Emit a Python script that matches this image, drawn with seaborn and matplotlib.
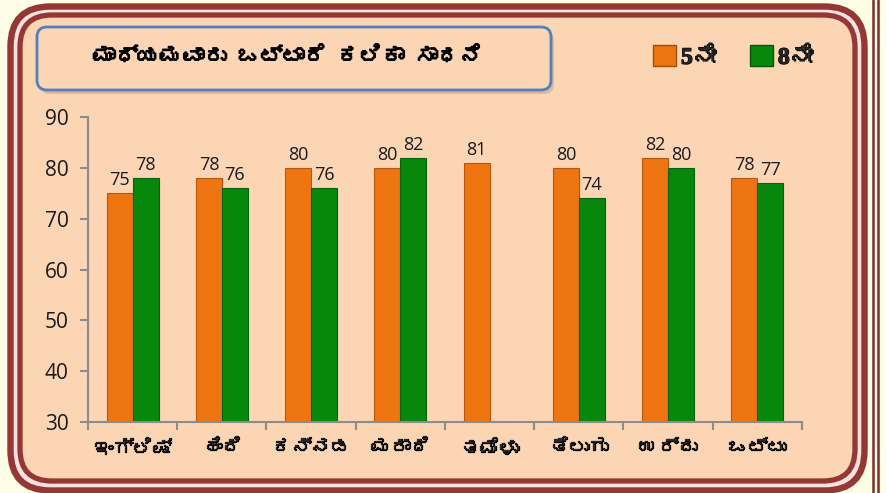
import numpy as np
import pandas as pd
import seaborn as sns
import matplotlib.pyplot as plt
import matplotlib.patheffects as pe
from matplotlib import font_manager, ft2font
from matplotlib.patches import FancyBboxPatch, Rectangle

sns.set_theme(style="white")

# find a font with Kannada glyphs
kn_font = None
for f in font_manager.fontManager.ttflist:
    try:
        if 0x0C95 in ft2font.FT2Font(f.fname).get_charmap():
            kn_font = f.name
            break
    except Exception:
        pass
kn_family = [kn_font, "DejaVu Sans"] if kn_font else ["DejaVu Sans"]
leg_family = ["Liberation Serif"] + kn_family
plt.rcParams["font.family"] = ["Open Sans", "DejaVu Sans"]

# data
languages = ["ಇಂಗ್ಲಿಷ್", "ಹಿಂದಿ", "ಕನ್ನಡ", "ಮರಾಠಿ", "ತಮಿಳು", "ತೆಲುಗು", "ಉರ್ದು", "ಒಟ್ಟು"]
grade5 = [75, 78, 80, 80, 81, 80, 82, 78]
grade8 = [78, 76, 76, 82, np.nan, 74, 80, 77]
grades = ["5ನೇ", "8ನೇ"]
title = "ಮಾಧ್ಯಮವಾರು ಒಟ್ಟಾರೆ ಕಲಿಕಾ ಸಾಧನೆ"

df = pd.DataFrame({"lang": languages * 2,
                   "grade": [grades[0]] * 8 + [grades[1]] * 8,
                   "score": grade5 + grade8}).dropna()

peach = "#FCD5B5"
red = "#953735"
orange = "#EE7512"
green = "#07870C"
bold_fx = [pe.withStroke(linewidth=0.9, foreground="black")]

W, H = 887, 493
fig = plt.figure(figsize=(W / 100, H / 100), dpi=100, facecolor="#FEFDE6")

# background frame layer (pixel coordinates)
bg = fig.add_axes([0, 0, 1, 1], zorder=0)
bg.set_xlim(0, W)
bg.set_ylim(H, 0)
bg.axis("off")
bg.add_patch(FancyBboxPatch((10.5, 6.5), 854, 484, boxstyle="round,pad=0,rounding_size=40",
                            fc="#F6E2DC", ec=red, lw=4.6))
bg.add_patch(FancyBboxPatch((20, 15), 835, 466, boxstyle="round,pad=0,rounding_size=32",
                            fc=peach, ec=red, lw=3.8))
for xl in (873, 878.5):
    bg.axvline(xl, color="#7A2E2C", lw=1.8)

# title box with shadow
bg.add_patch(FancyBboxPatch((40, 31), 514, 63, boxstyle="round,pad=0,rounding_size=10",
                            fc="#C9A58A", ec="none", alpha=0.6))
bg.add_patch(FancyBboxPatch((37, 27), 514, 63, boxstyle="round,pad=0,rounding_size=10",
                            fc=peach, ec="#4F81BD", lw=2))
bg.text(288, 56, title, ha="center", va="center", fontsize=16, fontweight="bold",
        color="black", family=kn_family, path_effects=bold_fx)

ax = fig.add_axes([88 / W, 1 - 422 / H, 714 / W, 305 / H], zorder=1)
ax.patch.set_alpha(0)

sns.barplot(data=df, x="lang", y="score", hue="grade", order=languages, hue_order=grades,
            palette=[orange, green], width=0.58, gap=0, errorbar=None,
            linewidth=0, saturation=1, ax=ax)

for cont, ec in zip(ax.containers, ["#B8570C", "#05640A"]):
    for bar in cont:
        bar.set_edgecolor(ec)
        bar.set_linewidth(0.8)
    ax.bar_label(cont, fmt="%d", padding=3, fontsize=13, color="#1A1A1A")

ax.set_ylim(30, 90)
ax.set_yticks(range(30, 91, 10))
ax.set_xlim(-0.5, 7.5)
ax.set_xticks(np.arange(-0.5, 8, 1), minor=True)
ax.set_xlabel("")
ax.set_ylabel("")
ax.tick_params(axis="x", which="major", length=0, pad=12)
ax.tick_params(axis="x", which="minor", length=6, width=1.5, color="#8C8C8C", direction="out", bottom=True)
ax.tick_params(axis="y", length=6, width=1.5, color="#8C8C8C", direction="out", left=True,
               labelsize=15, labelcolor="#1A1A1A", pad=8)
for lab in ax.get_xticklabels():
    lab.set_family(kn_family)
    lab.set_fontsize(14)
    lab.set_fontweight("bold")
    lab.set_path_effects(bold_fx)
for side in ["top", "right"]:
    ax.spines[side].set_visible(False)
for side in ["left", "bottom"]:
    ax.spines[side].set_color("#8C8C8C")
    ax.spines[side].set_linewidth(1.5)

handles = [Rectangle((0, 0), 1, 1, fc=orange, ec="#A04C0A"),
           Rectangle((0, 0), 1, 1, fc=green, ec="#05570A")]
leg = ax.legend(handles, grades, loc="center", bbox_to_anchor=(733 / W, 1 - 57 / H),
                bbox_transform=fig.transFigure, ncol=2, frameon=False,
                handlelength=1.0, handleheight=1.0, handletextpad=0.2, columnspacing=1.4,
                prop={"family": leg_family, "weight": "bold", "size": 17})
for t in leg.get_texts():
    t.set_path_effects(bold_fx)

fig.savefig("out.png", dpi=100, facecolor=fig.get_facecolor())
